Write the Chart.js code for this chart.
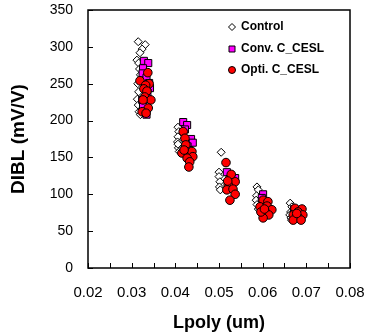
<!DOCTYPE html>
<html>
<head>
<meta charset="utf-8">
<script src="https://cdn.jsdelivr.net/npm/chart.js"></script>
<style>
  body { margin: 0; background: #fff; }
  #wrap { width: 368px; height: 336px; }
</style>
</head>
<body>
<div id="wrap"><canvas id="dibl" width="368" height="336"></canvas></div>
<script>
// Lpoly (um) / DIBL (mV/V), one pair per marker
const controlX = [0.0315, 0.0331, 0.0324, 0.0319, 0.0312, 0.0316, 0.0318, 0.0320, 0.0314, 0.0316, 0.0313, 0.0315, 0.0317, 0.0320,
  0.0406, 0.0408, 0.0406, 0.0405, 0.0407, 0.0406, 0.0409,
  0.0505, 0.0500, 0.0500, 0.0502, 0.0501, 0.0503,
  0.0587, 0.0590, 0.0586, 0.0585, 0.0587, 0.0590,
  0.0663, 0.0667, 0.0664, 0.0662, 0.0665, 0.0666];
const controlY = [307, 303, 297, 292, 282, 278, 270, 262, 250, 239, 229, 221, 212, 208,
  191, 185, 178, 171, 163, 168, 158,
  157, 130, 124, 117, 110, 106,
  110, 106, 98, 92, 86, 80,
  88, 83, 76, 72, 68, 65];

const convX = [0.0328, 0.0338, 0.0326, 0.0325, 0.0334, 0.0340, 0.0342, 0.0336, 0.0324, 0.0326, 0.0330, 0.0334,
  0.0418, 0.0427, 0.0422, 0.0436, 0.0440, 0.0428, 0.0432,
  0.0518, 0.0537, 0.0525, 0.0530, 0.0528,
  0.0601, 0.0598, 0.0603, 0.0605, 0.0600,
  0.0672, 0.0675, 0.0678, 0.0674];
const convY = [281, 278, 271, 264, 258, 251, 244, 238, 228, 219, 212, 208,
  198, 194, 188, 175, 170, 165, 160,
  130, 122, 118, 112, 108,
  100, 95, 90, 85, 80,
  80, 76, 72, 69];

const optiX = [0.0337, 0.0319, 0.0340, 0.0332, 0.0328, 0.0335, 0.0330, 0.0344, 0.0326, 0.0338, 0.0324, 0.0333,
  0.0418, 0.0422, 0.0424, 0.0415, 0.0429, 0.0438, 0.0440, 0.0427, 0.0433, 0.0431, 0.0420,
  0.0516, 0.0525, 0.0537, 0.0521, 0.0518, 0.0532, 0.0537, 0.0525, 0.0528, 0.0520,
  0.0601, 0.0612, 0.0594, 0.0610, 0.0621, 0.0606, 0.0614, 0.0601, 0.0596, 0.0604,
  0.0674, 0.0690, 0.0681, 0.0670, 0.0692, 0.0681, 0.0670, 0.0688, 0.0678];
const optiY = [265, 254, 250, 248, 243, 240, 232, 228, 228, 217, 212, 210,
  185, 176, 167, 156, 157, 158, 151, 149, 144, 137, 160,
  143, 122, 117, 113, 106, 107, 100, 92, 127, 118,
  92, 90, 83, 84, 79, 76, 72, 68, 76, 80,
  81, 80, 76, 72, 72, 69, 65, 65, 74];

const xTicks = [0.02, 0.03, 0.04, 0.05, 0.06, 0.07, 0.08];
const yTicks = [0, 50, 100, 150, 200, 250, 300, 350];

const FONT = "'Liberation Sans', Arial, sans-serif";

function pts(xs, ys) {
  return xs.map((x, i) => ({ x: x, y: ys[i] }));
}

// frame + inward tick marks, like the original plot
const framePlugin = {
  id: "frame",
  afterDraw(chart) {
    const { ctx, chartArea: a, scales } = chart;
    ctx.save();
    ctx.strokeStyle = "#000";
    ctx.lineWidth = 1;
    ctx.beginPath();
    for (let v = xTicks[0]; v <= xTicks[xTicks.length - 1] + 1e-9; v += 0.005) {
      const px = Math.round(scales.x.getPixelForValue(v)) + 0.5;
      ctx.moveTo(px, a.bottom);
      ctx.lineTo(px, a.bottom - 5);
    }
    yTicks.forEach((v) => {
      const py = Math.round(scales.y.getPixelForValue(v)) + 0.5;
      ctx.moveTo(a.left, py);
      ctx.lineTo(a.left + 5, py);
    });
    ctx.stroke();
    ctx.lineWidth = 1.5;
    ctx.strokeRect(a.left, a.top, a.right - a.left, a.bottom - a.top);
    ctx.restore();
  },
};

// legend sits inside the plot, top right
const legendPlugin = {
  id: "innerLegend",
  afterDraw(chart) {
    const { ctx, chartArea: a } = chart;
    const mx = a.right - 118;
    const rows = [a.top + 17, a.top + 39, a.top + 60];
    ctx.save();
    ctx.lineWidth = 1;
    ctx.strokeStyle = "#000";
    chart.data.datasets.slice().sort((p, q) => q.order - p.order).forEach((ds, i) => {
      const y = rows[i];
      ctx.fillStyle = ds.backgroundColor;
      ctx.beginPath();
      if (ds.pointStyle === "rectRot") {
        ctx.moveTo(mx, y - 3.5);
        ctx.lineTo(mx + 3.5, y);
        ctx.lineTo(mx, y + 3.5);
        ctx.lineTo(mx - 3.5, y);
        ctx.closePath();
      } else if (ds.pointStyle === "rect") {
        ctx.rect(mx - 3, y - 3, 6, 6);
      } else {
        ctx.arc(mx, y, 3.5, 0, Math.PI * 2);
      }
      ctx.fill();
      ctx.stroke();
      ctx.fillStyle = "#000";
      ctx.font = "bold 12px " + FONT;
      ctx.textBaseline = "middle";
      ctx.fillText(ds.label, mx + 9, y);
    });
    ctx.restore();
  },
};

new Chart(document.getElementById("dibl"), {
  type: "scatter",
  data: {
    datasets: [
      {
        label: "Opti. C_CESL",
        data: pts(optiX, optiY),
        pointStyle: "circle",
        pointRadius: 4.3,
        backgroundColor: "#FF0000",
        borderColor: "#000",
        borderWidth: 1,
        order: 1,
      },
      {
        label: "Conv. C_CESL",
        data: pts(convX, convY),
        pointStyle: "rect",
        pointRadius: 5,
        backgroundColor: "#FF00FF",
        borderColor: "#000",
        borderWidth: 1,
        order: 2,
      },
      {
        label: "Control",
        data: pts(controlX, controlY),
        pointStyle: "rectRot",
        pointRadius: 4,
        backgroundColor: "#FFFFFF",
        borderColor: "#000",
        borderWidth: 1,
        order: 3,
      },
    ],
  },
  options: {
    responsive: false,
    animation: false,
    layout: { padding: { top: 10, right: 18, bottom: 0, left: 0 } },
    plugins: {
      legend: { display: false },
      tooltip: { enabled: false },
    },
    scales: {
      x: {
        type: "linear",
        min: 0.02,
        max: 0.08,
        afterFit: (s) => { s.height = 68; },
        afterBuildTicks: (s) => { s.ticks = xTicks.map((v) => ({ value: v })); },
        // tick marks are drawn by the frame plugin; tickLength only spaces the labels
        grid: { display: false, drawTicks: true, tickLength: 16 },
        border: { display: false },
        ticks: {
          padding: 0,
          color: "#000",
          font: { family: FONT, size: 15 },
          callback: (v) => Number(v).toFixed(2),
        },
        title: {
          display: true,
          text: "Lpoly (um)",
          color: "#000",
          font: { family: FONT, size: 18, weight: "bold" },
          padding: { top: 0, bottom: 2 },
        },
      },
      y: {
        type: "linear",
        min: 0,
        max: 350,
        afterFit: (s) => { s.width = 88; },
        afterBuildTicks: (s) => { s.ticks = yTicks.map((v) => ({ value: v })); },
        grid: { display: false, drawTicks: true, tickLength: 15 },
        border: { display: false },
        ticks: {
          padding: 0,
          color: "#000",
          font: { family: FONT, size: 14 },
        },
        title: {
          display: true,
          text: "DIBL (mV/V)",
          color: "#000",
          font: { family: FONT, size: 19, weight: "bold" },
          padding: { top: 7, bottom: 0 },
        },
      },
    },
  },
  plugins: [framePlugin, legendPlugin],
});
</script>
</body>
</html>
